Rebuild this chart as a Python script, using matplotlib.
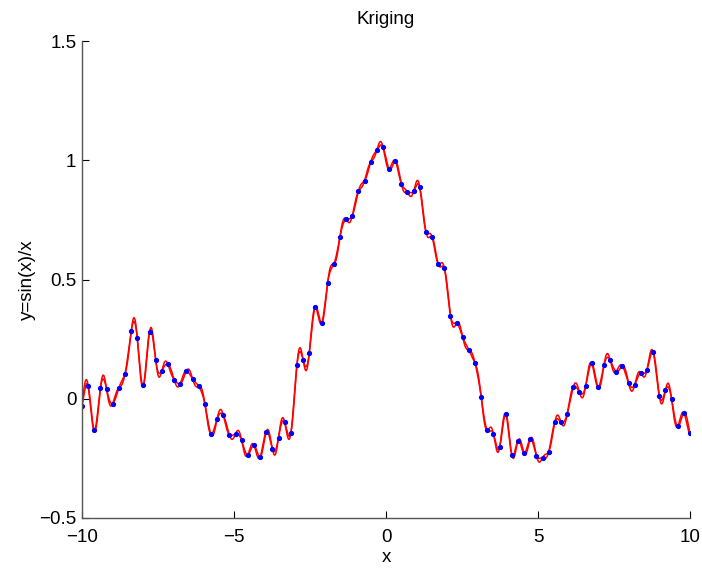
import numpy as np
import matplotlib
matplotlib.use("Agg")
import matplotlib.pyplot as plt

plt.rcParams["font.family"] = ["Liberation Sans", "DejaVu Sans"]

# sample grid and noisy sin(x)/x observations
x_lo, x_hi, n_pts = -10.0, 10.0, 100
y_obs = [
    -0.029, 0.054, -0.133, 0.045, 0.041, -0.020, 0.045, 0.103, 0.282, 0.254,
    0.056, 0.281, 0.162, 0.117, 0.144, 0.080, 0.063, 0.117, 0.084, 0.052,
    -0.021, -0.149, -0.085, -0.068, -0.152, -0.147, -0.175, -0.235, -0.195, -0.245,
    -0.138, -0.210, -0.163, -0.099, -0.145, 0.142, 0.163, 0.191, 0.384, 0.317,
    0.486, 0.565, 0.678, 0.753, 0.766, 0.869, 0.914, 0.992, 1.042, 1.057,
    0.963, 0.997, 0.901, 0.866, 0.870, 0.887, 0.701, 0.679, 0.566, 0.548,
    0.349, 0.317, 0.257, 0.204, 0.150, 0.007, -0.133, -0.148, -0.204, -0.064,
    -0.236, -0.176, -0.229, -0.168, -0.238, -0.247, -0.222, -0.096, -0.098, -0.064,
    0.050, 0.028, 0.052, 0.148, 0.050, 0.142, 0.162, 0.114, 0.138, 0.066,
    0.059, 0.109, 0.122, 0.196, 0.013, 0.035, -0.001, -0.116, -0.059, -0.145,
]
x_ticks = [-10, -5, 0, 5, 10]
y_ticks = [-0.5, 0, 0.5, 1, 1.5]
y_tick_labels = ["\u22120.5", "0", "0.5", "1", "1.5"]
x_tick_labels = ["\u221210", "\u22125", "0", "5", "10"]

ELL = 0.2        # gaussian correlation length
BAND = 0.013     # max half width of the drawn bounds
FS = 13.5


def kriging(xs, ys, xq, ell, nugget=1e-10):
    def corr(a, b):
        d = a[:, None] - b[None, :]
        return np.exp(-0.5 * (d / ell) ** 2)

    n = len(xs)
    K = corr(xs, xs) + nugget * np.eye(n)
    Ki = np.linalg.inv(K)
    one = np.ones(n)
    beta = one @ Ki @ ys / (one @ Ki @ one)
    r = ys - beta
    kq = corr(xq, xs)
    mean = beta + kq @ (Ki @ r)
    s2 = r @ Ki @ r / n
    u = 1 - kq @ Ki @ one
    var = s2 * (1 - np.einsum("ij,jk,ik->i", kq, Ki, kq) + u ** 2 / (one @ Ki @ one))
    return mean, np.sqrt(np.clip(var, 0, None))


def main():
    xs = np.linspace(x_lo, x_hi, n_pts)
    ys = np.array(y_obs)
    xq = np.linspace(x_lo, x_hi, 4000)
    mean, sd = kriging(xs, ys, xq, ELL)
    hw = BAND * sd / sd.max()

    fig = plt.figure(figsize=(7.02, 5.69), dpi=100)
    ax = fig.add_axes([82 / 702, 51 / 569, 608 / 702, 477 / 569])

    ax.plot(xq, mean + hw, color="red", lw=1.1)
    ax.plot(xq, mean - hw, color="red", lw=1.1)
    ax.plot(xs, ys, ".", color="blue", markersize=5.5)

    ax.set_xlim(-10, 10)
    ax.set_ylim(-0.5, 1.5)
    ax.set_xticks(x_ticks)
    ax.set_xticklabels(x_tick_labels)
    ax.set_yticks(y_ticks)
    ax.set_yticklabels(y_tick_labels)
    ax.tick_params(direction="in", length=5, width=0.8, labelsize=FS, colors="black")
    ax.tick_params(axis="x", pad=8)
    ax.tick_params(axis="y", pad=4)
    for side in ("top", "right"):
        ax.spines[side].set_visible(False)
    for side in ("left", "bottom"):
        ax.spines[side].set_color("#555555")
        ax.spines[side].set_linewidth(1.0)

    ax.set_title("Kriging", fontsize=FS, pad=12)
    ax.set_xlabel("x", fontsize=FS, labelpad=2)
    ax.set_ylabel("y=sin(x)/x", fontsize=FS, labelpad=2)

    fig.savefig("out.png", dpi=100)
    plt.close(fig)


if __name__ == "__main__":
    main()
